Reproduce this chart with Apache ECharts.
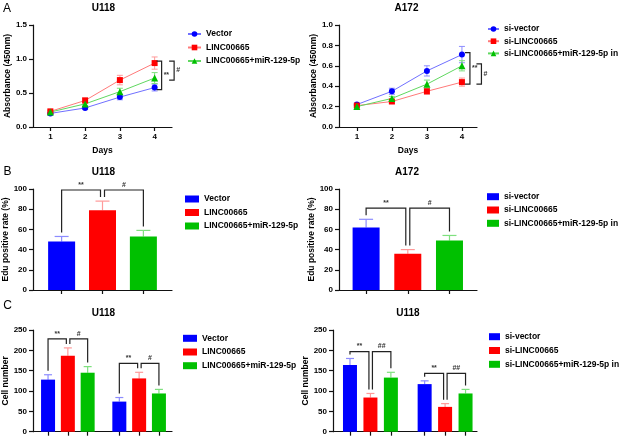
<!DOCTYPE html>
<html><head><meta charset="utf-8">
<script src="https://cdn.jsdelivr.net/npm/echarts@6/dist/echarts.min.js"></script>
<style>html,body{margin:0;padding:0;background:#fff}#c{width:621px;height:442px}</style>
</head><body><div id="c"></div>
<script>
// ---------- DATA ----------
const days = [1, 2, 3, 4];
const namesU118 = ['Vector', 'LINC00665', 'LINC00665+miR-129-5p'];
const namesA172 = ['si-vector', 'si-LINC00665', 'si-LINC00665+miR-129-5p in'];

// Panel A: absorbance (450nm)
const absU118Vector = [0.20, 0.28, 0.44, 0.58];
const absU118VectorErr = [0.02, 0.02, 0.04, 0.05];
const absU118Linc = [0.23, 0.39, 0.69, 0.94];
const absU118LincErr = [0.02, 0.04, 0.07, 0.09];
const absU118Mir = [0.22, 0.34, 0.52, 0.72];
const absU118MirErr = [0.02, 0.03, 0.05, 0.08];
const absA172Vector = [0.22, 0.35, 0.55, 0.71];
const absA172VectorErr = [0.01, 0.03, 0.05, 0.08];
const absA172Linc = [0.21, 0.25, 0.35, 0.44];
const absA172LincErr = [0.01, 0.02, 0.03, 0.04];
const absA172Mir = [0.20, 0.28, 0.42, 0.60];
const absA172MirErr = [0.01, 0.02, 0.04, 0.05];

// Panel B: Edu positive rate (%)
const eduU118 = [48, 79, 53];
const eduU118Err = [5, 9, 6];
const eduA172 = [62, 36, 49];
const eduA172Err = [8, 4, 5];

// Panel C: cell number (two groups each)
const cellOEVector = [128, 74];
const cellOEVectorErr = [12, 10];
const cellOELinc = [187, 131];
const cellOELincErr = [19, 15];
const cellOEMir = [145, 94];
const cellOEMirErr = [15, 10];
const cellKDVector = [164, 117];
const cellKDVectorErr = [16, 8];
const cellKDLinc = [84, 61];
const cellKDLincErr = [10, 8];
const cellKDMir = [133, 94];
const cellKDMirErr = [13, 10];

// Significance marks
const sigAU118 = ['**', '#'];
const sigAA172 = ['**', '#'];
const sigB = ['**', '#'];
const sigCOE = ['**', '#'];
const sigCKD = ['**', '##'];
// bracket heights (data units)
const sigBLevelU118 = 99, sigBLevelA172 = 81;
const sigCLevelOE = [228, 168];
const sigCLevelKD = [197, 143.5];

// ---------- STYLE ----------
const FONT = '"Liberation Sans", Arial, Helvetica, sans-serif';
const COL = ['#0000ff', '#ff0000', '#00c000'];
const LIGHT = ['#7070ff', '#ff7a7a', '#60d860'];
const ERRC = ['#8c8cff', '#ff9a9a', '#7fe07f'];
const SYM = ['circle', 'rect', 'triangle'];

const chart = echarts.init(document.getElementById('c'));

function axisBase() {
  return {
    axisLine: { show: true, onZero: false, lineStyle: { color: '#111', width: 1.2 } },
    axisTick: { show: true, length: 4, inside: false, lineStyle: { color: '#111', width: 1.2 } },
    axisLabel: { color: '#000', fontSize: 8, fontWeight: 'bold', fontFamily: FONT, margin: 6 },
    splitLine: { show: false }
  };
}
function yAx(idx, max, interval, name, dec, gap) {
  const a = axisBase();
  return Object.assign(a, {
    type: 'value', gridIndex: idx, min: 0, max: max, interval: interval,
    name: name, nameLocation: 'middle', nameGap: gap, nameRotate: 90,
    nameTextStyle: { color: '#000', fontSize: 8.5, fontWeight: 'bold', fontFamily: FONT },
    axisLabel: Object.assign(a.axisLabel, { formatter: v => dec ? v.toFixed(dec) : String(v) })
  });
}
function xAx(idx, min, max, ticks, showLabels, name) {
  const a = axisBase();
  a.axisTick.customValues = ticks;
  a.axisLabel.customValues = ticks;
  a.axisLabel.show = showLabels;
  return Object.assign(a, {
    type: 'value', gridIndex: idx, min: min, max: max,
    name: name || '', nameLocation: 'middle', nameGap: 19,
    nameTextStyle: { color: '#000', fontSize: 8.5, fontWeight: 'bold', fontFamily: FONT }
  });
}

const series = [];

// ----- Panel A -----
function addLinePanel(ax, names, vals, errs) {
  names.forEach((nm, s) => {
    series.push({
      type: 'custom', xAxisIndex: ax, yAxisIndex: ax, silent: true, z: 3, clip: false,
      data: days.map((d, i) => [d, vals[s][i], errs[s][i]]),
      renderItem(params, api) {
        const x = api.value(0), v = api.value(1), e = api.value(2);
        const p1 = api.coord([x, v + e]), p2 = api.coord([x, v - e]);
        const st = { stroke: ERRC[s], lineWidth: 1 };
        return { type: 'group', children: [
          { type: 'line', shape: { x1: p1[0], y1: p1[1], x2: p2[0], y2: p2[1] }, style: st },
          { type: 'line', shape: { x1: p1[0] - 3, y1: p1[1], x2: p1[0] + 3, y2: p1[1] }, style: st },
          { type: 'line', shape: { x1: p2[0] - 3, y1: p2[1], x2: p2[0] + 3, y2: p2[1] }, style: st }
        ]};
      }
    });
    series.push({
      type: 'line', name: nm, xAxisIndex: ax, yAxisIndex: ax, z: 5,
      data: days.map((d, i) => [d, vals[s][i]]),
      symbol: SYM[s], symbolSize: s === 2 ? 7 : 6, showSymbol: true,
      itemStyle: { color: COL[s] }, lineStyle: { color: LIGHT[s], width: 1 }
    });
  });
}
addLinePanel(0, namesU118, [absU118Vector, absU118Linc, absU118Mir], [absU118VectorErr, absU118LincErr, absU118MirErr]);
addLinePanel(1, namesA172, [absA172Vector, absA172Linc, absA172Mir], [absA172VectorErr, absA172LincErr, absA172MirErr]);

function vBrackets(ax, items) {
  series.push({
    type: 'custom', xAxisIndex: ax, yAxisIndex: ax, silent: true, z: 6, clip: false,
    data: items.map(b => [4, b.v1]),
    renderItem(params, api) {
      const b = items[params.dataIndex];
      const p1 = api.coord([4, b.v1]), p2 = api.coord([4, b.v2]);
      const X = p1[0] + b.dx;
      const y1 = Math.min(p1[1], p2[1]) - 2, y2 = Math.max(p1[1], p2[1]) + 2;
      return { type: 'group', children: [
        { type: 'polyline', shape: { points: [[X - 5, y1], [X, y1], [X, y2], [X - 5, y2]] }, style: { stroke: '#222', lineWidth: 1.2, fill: null } },
        { type: 'text', x: X + 2, y: (y1 + y2) / 2, style: { text: b.text, align: 'left', verticalAlign: 'middle', fill: '#333', font: 'bold 7px ' + FONT } }
      ]};
    }
  });
}
vBrackets(0, [
  { v1: absU118Linc[3], v2: absU118Vector[3], dx: 7, text: sigAU118[0] },
  { v1: absU118Linc[3], v2: absU118Mir[3], dx: 19.5, text: sigAU118[1] }
]);
vBrackets(1, [
  { v1: absA172Vector[3], v2: absA172Linc[3], dx: 8, text: sigAA172[0] },
  { v1: absA172Mir[3], v2: absA172Linc[3], dx: 19.5, text: sigAA172[1] }
]);

// ----- Bars (B, C) -----
function addBars(ax, names, vals, errs, posFn, w, cap) {
  names.forEach((nm, s) => {
    series.push({
      type: 'custom', name: nm, xAxisIndex: ax, yAxisIndex: ax, z: 4, clip: false,
      itemStyle: { color: COL[s] },
      data: vals[s].map((v, g) => [posFn(g, s), v, errs[s][g]]),
      renderItem(params, api) {
        const x = api.value(0), v = api.value(1), e = api.value(2);
        const p0 = api.coord([x, 0]), p1 = api.coord([x, v]), p2 = api.coord([x, v + e]);
        const st = { stroke: ERRC[s], lineWidth: 1.2 };
        return { type: 'group', children: [
          { type: 'line', shape: { x1: p1[0], y1: p1[1], x2: p2[0], y2: p2[1] }, style: st },
          { type: 'line', shape: { x1: p2[0] - cap, y1: p2[1], x2: p2[0] + cap, y2: p2[1] }, style: st },
          { type: 'rect', shape: { x: p0[0] - w / 2, y: p1[1], width: w, height: p0[1] - p1[1] }, style: { fill: COL[s] } }
        ]};
      }
    });
  });
}
function hBrackets(ax, items) {
  series.push({
    type: 'custom', xAxisIndex: ax, yAxisIndex: ax, silent: true, z: 6, clip: false,
    data: items.map(b => [b.x1, b.level]),
    renderItem(params, api) {
      const b = items[params.dataIndex];
      const pL = api.coord([b.x1, b.level]), pR = api.coord([b.x2, b.level]);
      const yL = api.coord([b.x1, b.top1])[1] - 4, yR = api.coord([b.x2, b.top2])[1] - 4;
      const xL = pL[0] + b.off1, xR = pR[0] + b.off2, y = pL[1];
      return { type: 'group', children: [
        { type: 'polyline', shape: { points: [[xL, yL], [xL, y], [xR, y], [xR, yR]] }, style: { stroke: '#222', lineWidth: 1.2, fill: null } },
        { type: 'text', x: (xL + xR) / 2, y: y - 1.5, style: { text: b.text, align: 'center', verticalAlign: 'bottom', fill: '#333', font: 'bold 7px ' + FONT } }
      ]};
    }
  });
}

const posB = (g, s) => s + 1;
const posCOE = (g, s) => 1 + s + g * 3.6;
const posCKD = (g, s) => 1 + s + g * 3.65;

addBars(2, namesU118, [[eduU118[0]], [eduU118[1]], [eduU118[2]]], [[eduU118Err[0]], [eduU118Err[1]], [eduU118Err[2]]], posB, 27, 7);
addBars(3, namesA172, [[eduA172[0]], [eduA172[1]], [eduA172[2]]], [[eduA172Err[0]], [eduA172Err[1]], [eduA172Err[2]]], posB, 27, 7);

function bBrackets(ax, vals, errs, level) {
  const top = i => vals[i] + errs[i];
  hBrackets(ax, [
    { x1: posB(0, 0), x2: posB(0, 1), top1: top(0), top2: top(1), off1: 0, off2: -2, level: level, text: sigB[0] },
    { x1: posB(0, 1), x2: posB(0, 2), top1: top(1), top2: top(2), off1: 2, off2: 0, level: level, text: sigB[1] }
  ]);
}
bBrackets(2, eduU118, eduU118Err, sigBLevelU118);
bBrackets(3, eduA172, eduA172Err, sigBLevelA172);

const oeVals = [cellOEVector, cellOELinc, cellOEMir], oeErrs = [cellOEVectorErr, cellOELincErr, cellOEMirErr];
const kdVals = [cellKDVector, cellKDLinc, cellKDMir], kdErrs = [cellKDVectorErr, cellKDLincErr, cellKDMirErr];
addBars(4, namesU118, oeVals, oeErrs, posCOE, 14, 4);
addBars(5, namesA172, kdVals, kdErrs, posCKD, 14, 4);

function cBrackets(ax, vals, errs, posFn, levels, labels) {
  const items = [];
  [0, 1].forEach(g => {
    const top = s => vals[s][g] + errs[s][g];
    items.push({ x1: posFn(g, 0), x2: posFn(g, 1), top1: top(0), top2: top(1), off1: 0, off2: -1.5, level: levels[g], text: labels[0] });
    items.push({ x1: posFn(g, 1), x2: posFn(g, 2), top1: top(1), top2: top(2), off1: 2, off2: 0, level: levels[g], text: labels[1] });
  });
  hBrackets(ax, items);
}
cBrackets(4, oeVals, oeErrs, posCOE, sigCLevelOE, sigCOE);
cBrackets(5, kdVals, kdErrs, posCKD, sigCLevelKD, sigCKD);

// ---------- AXES ----------
const grid = [
  { left: 33, top: 25, width: 139, height: 102 },
  { left: 339, top: 25, width: 138, height: 102 },
  { left: 33, top: 189, width: 139, height: 101 },
  { left: 339, top: 189, width: 138, height: 101 },
  { left: 33, top: 330, width: 139, height: 101.7 },
  { left: 333, top: 330, width: 144, height: 101.7 }
].map(g => Object.assign(g, { containLabel: false, outerBoundsMode: 'none', show: false }));

const xAxis = [
  xAx(0, 0.5, 4.5, days, true, 'Days'),
  xAx(1, 0.49, 4.43, days, true, 'Days'),
  xAx(2, 0.3, 3.7, [0, 1, 2].map(s => posB(0, s)), false),
  xAx(3, 0.35, 3.66, [0, 1, 2].map(s => posB(0, s)), false),
  xAx(4, 0.24, 7.26, [0, 1].flatMap(g => [0, 1, 2].map(s => posCOE(g, s))), false),
  xAx(5, 0.17, 7.21, [0, 1].flatMap(g => [0, 1, 2].map(s => posCKD(g, s))), false)
];
const yAxis = [
  yAx(0, 1.5, 0.5, 'Absorbance (450nm)', 1, 20),
  yAx(1, 1.0, 0.2, 'Absorbance (450nm)', 1, 20),
  yAx(2, 100, 20, 'Edu positive rate (%)', 0, 21),
  yAx(3, 100, 20, 'Edu positive rate (%)', 0, 22),
  yAx(4, 250, 50, 'Cell number', 0, 21),
  yAx(5, 250, 50, 'Cell number', 0, 17)
];

// ---------- LEGENDS ----------
function leg(names, left, top, gap, w, rect) {
  const l = {
    orient: 'vertical', left: left, top: top, padding: 0, itemGap: gap,
    itemWidth: w, itemHeight: 7, data: names, selectedMode: false,
    textStyle: { color: '#000', fontSize: 8.5, fontWeight: 'bold', fontFamily: FONT, lineHeight: 11 }
  };
  if (rect) l.icon = 'rect';
  return l;
}
const legend = [
  leg(namesU118, 187, 28.5, 2.5, 13, false),
  leg(namesA172, 487, 23.5, 1.2, 11, false),
  leg(namesU118, 185, 193.5, 2.5, 14, true),
  leg(namesA172, 487, 191.2, 2.3, 12, true),
  leg(namesU118, 183, 332.8, 2.7, 14, true),
  leg(namesA172, 489, 331.2, 2.8, 11, true)
];

// ---------- TEXT ----------
function txt(t, x, y, font) {
  return { type: 'text', x: x, y: y, silent: true, style: { text: t, align: 'center', verticalAlign: 'middle', fill: '#000', font: font } };
}
const TF = 'bold 10px ' + FONT, LF = '12px ' + FONT;
const graphic = [
  txt('A', 7, 9, LF), txt('B', 7.5, 172, LF), txt('C', 7.5, 305.5, LF),
  txt('U118', 103.5, 8.5, TF), txt('A172', 406.5, 8.5, TF),
  txt('U118', 103.5, 172, TF), txt('A172', 407, 172.3, TF),
  txt('U118', 103.5, 313.3, TF), txt('U118', 408, 313.3, TF)
];

chart.setOption({
  animation: false,
  backgroundColor: '#fff',
  grid: grid, xAxis: xAxis, yAxis: yAxis, legend: legend,
  series: series, graphic: graphic, tooltip: { show: false }
});
</script></body></html>
